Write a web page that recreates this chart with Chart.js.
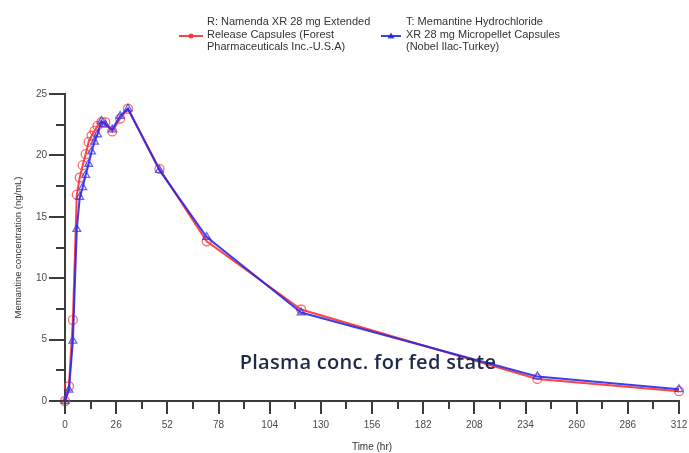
<!DOCTYPE html>
<html>
<head>
<meta charset="utf-8">
<script src="https://cdn.jsdelivr.net/npm/chart.js@4/dist/chart.umd.min.js"></script>
<style>
  html, body { margin: 0; padding: 0; background: #ffffff; }
  #wrap { width: 689px; height: 453px; position: relative; }
</style>
</head>
<body>
<div id="wrap"><canvas id="c" width="689" height="453"></canvas></div>
<script>
// Sampling times (hr)
const times = [0, 2, 4, 6, 7.5, 9, 10.5, 12, 13.5, 15, 16.5, 18.5, 20.5, 24, 28, 32, 48, 72, 120, 240, 312];
// R: Namenda XR 28 mg (ng/mL)
const refConc = [0, 1.2, 6.6, 16.8, 18.2, 19.2, 20.1, 21.1, 21.6, 22.0, 22.4, 22.7, 22.7, 21.95, 23.0, 23.8, 18.9, 13.0, 7.45, 1.8, 0.8];
// T: Memantine HCl XR 28 mg micropellet (ng/mL)
const testConc = [0, 0.9, 4.9, 14.0, 16.6, 17.4, 18.4, 19.3, 20.3, 21.1, 21.7, 22.8, 22.5, 22.1, 23.2, 23.8, 18.8, 13.35, 7.2, 2.0, 0.95];

const xLabelStep = 26;   // labelled x ticks
const yLabelStep = 5;    // labelled y ticks

const refLegend = ['R: Namenda XR 28 mg Extended', 'Release Capsules (Forest', 'Pharmaceuticals Inc.-U.S.A)'];
const testLegend = ['T: Memantine Hydrochloride', 'XR 28 mg Micropellet Capsules', '(Nobel Ilac-Turkey)'];
const caption = 'Plasma conc. for fed state';

const RED = 'rgba(255,45,45,0.9)';
const BLUE = 'rgba(35,35,235,0.88)';
const AXIS = '#3c3c3c';

const toPoints = (ys) => times.map((t, i) => ({ x: t, y: ys[i] }));

// Major / minor tick marks drawn outside the plot
const tickMarks = {
  id: 'tickMarks',
  afterDraw(chart) {
    const ctx = chart.ctx;
    const xs = chart.scales.x, ys = chart.scales.y;
    ctx.save();
    ctx.strokeStyle = AXIS;
    ctx.lineWidth = 2;
    ys.ticks.forEach(t => {
      const py = Math.round(ys.getPixelForValue(t.value));
      const major = Math.abs(t.value % yLabelStep) < 1e-6;
      const len = major ? 16 : 9;
      ctx.beginPath();
      ctx.moveTo(xs.left - len, py);
      ctx.lineTo(xs.left, py);
      ctx.stroke();
    });
    xs.ticks.forEach(t => {
      const px = Math.round(xs.getPixelForValue(t.value));
      const major = Math.abs(t.value % xLabelStep) < 1e-6;
      const len = major ? 13 : 8;
      ctx.beginPath();
      ctx.moveTo(px, ys.bottom);
      ctx.lineTo(px, ys.bottom + len);
      ctx.stroke();
    });
    ctx.restore();
  }
};

// Multi-line legend and caption
const legendAndCaption = {
  id: 'legendAndCaption',
  afterDraw(chart) {
    const ctx = chart.ctx;
    ctx.save();
    const entries = [
      { ds: chart.data.datasets[0], lineX: [179, 203], text: refLegend, textX: 207 },
      { ds: chart.data.datasets[1], lineX: [381, 401], text: testLegend, textX: 406 }
    ];
    entries.forEach(e => {
      const y = 36;
      ctx.strokeStyle = e.ds.borderColor;
      ctx.lineWidth = 2;
      ctx.beginPath();
      ctx.moveTo(e.lineX[0], y);
      ctx.lineTo(e.lineX[1], y);
      ctx.stroke();
      const mx = (e.lineX[0] + e.lineX[1]) / 2;
      ctx.fillStyle = e.ds.borderColor;
      ctx.beginPath();
      if (e.ds.pointStyle === 'triangle') {
        ctx.moveTo(mx, y - 3.5); ctx.lineTo(mx + 3.5, y + 2.5); ctx.lineTo(mx - 3.5, y + 2.5);
      } else {
        ctx.arc(mx, y, 2.5, 0, Math.PI * 2);
      }
      ctx.closePath();
      ctx.fill();
      ctx.fillStyle = '#333333';
      ctx.font = "11px 'Liberation Sans', Arial, sans-serif";
      ctx.textBaseline = 'middle';
      ctx.textAlign = 'left';
      e.text.forEach((line, i) => ctx.fillText(line, e.textX, 22 + i * 12.5));
    });
    ctx.fillStyle = '#1f2a48';
    ctx.font = "600 20px 'Open Sans', 'Noto Sans', sans-serif";
    ctx.letterSpacing = '0.3px';
    ctx.textAlign = 'center';
    ctx.textBaseline = 'middle';
    ctx.fillText(caption, 368, 363);
    ctx.restore();
  }
};

new Chart(document.getElementById('c'), {
  type: 'line',
  data: {
    datasets: [
      {
        label: refLegend.join(' '),
        data: toPoints(refConc),
        borderColor: RED,
        backgroundColor: 'rgba(0,0,0,0)',
        borderWidth: 2,
        pointStyle: 'circle',
        pointRadius: 4.5,
        pointBorderWidth: 1.3,
        pointBorderColor: 'rgba(255,60,60,0.75)',
        pointBackgroundColor: 'rgba(255,255,255,0)',
        tension: 0,
        clip: false,
        order: 1
      },
      {
        label: testLegend.join(' '),
        data: toPoints(testConc),
        borderColor: BLUE,
        backgroundColor: 'rgba(0,0,0,0)',
        borderWidth: 2,
        pointStyle: 'triangle',
        pointRadius: 4.5,
        pointBorderWidth: 1.3,
        pointBorderColor: 'rgba(50,50,240,0.75)',
        pointBackgroundColor: 'rgba(255,255,255,0)',
        tension: 0,
        clip: false,
        order: 0
      }
    ]
  },
  options: {
    responsive: false,
    animation: false,
    devicePixelRatio: 1,
    layout: { padding: { top: 94, right: 10, bottom: 0, left: 0 } },
    plugins: {
      legend: { display: false },
      tooltip: { enabled: false },
      title: { display: false }
    },
    scales: {
      x: {
        type: 'linear',
        min: 0,
        max: 312,
        afterFit: (s) => { s.height = 52; s.paddingLeft = 0; s.paddingRight = 0; },
        grid: { display: true, drawOnChartArea: false, drawTicks: false },
        border: { display: true, color: AXIS, width: 2 },
        ticks: {
          stepSize: 13,
          autoSkip: false,
          maxRotation: 0,
          padding: 18,
          color: '#4a4a4a',
          font: { family: "'Liberation Sans', Arial, sans-serif", size: 10 },
          callback: (v) => (Math.abs(v % xLabelStep) < 1e-6 ? String(v) : '')
        },
        title: {
          display: true,
          text: 'Time (hr)',
          color: '#333333',
          font: { family: "'Liberation Sans', Arial, sans-serif", size: 10 },
          padding: { top: 0, bottom: 0 }
        }
      },
      y: {
        type: 'linear',
        min: 0,
        max: 25,
        afterFit: (s) => { s.width = 65; },
        grid: { display: true, drawOnChartArea: false, drawTicks: false },
        border: { display: true, color: AXIS, width: 2 },
        ticks: {
          stepSize: 2.5,
          autoSkip: false,
          padding: 18,
          color: '#4a4a4a',
          font: { family: "'Liberation Sans', Arial, sans-serif", size: 10 },
          callback: (v) => (Math.abs(v % yLabelStep) < 1e-6 ? String(v) : '')
        },
        title: {
          display: true,
          text: 'Memantine concentration (ng/mL)',
          color: '#333333',
          font: { family: "'Liberation Sans', Arial, sans-serif", size: 9.5 },
          padding: { top: 13, bottom: 0 }
        }
      }
    }
  },
  plugins: [tickMarks, legendAndCaption]
});
</script>
</body>
</html>
